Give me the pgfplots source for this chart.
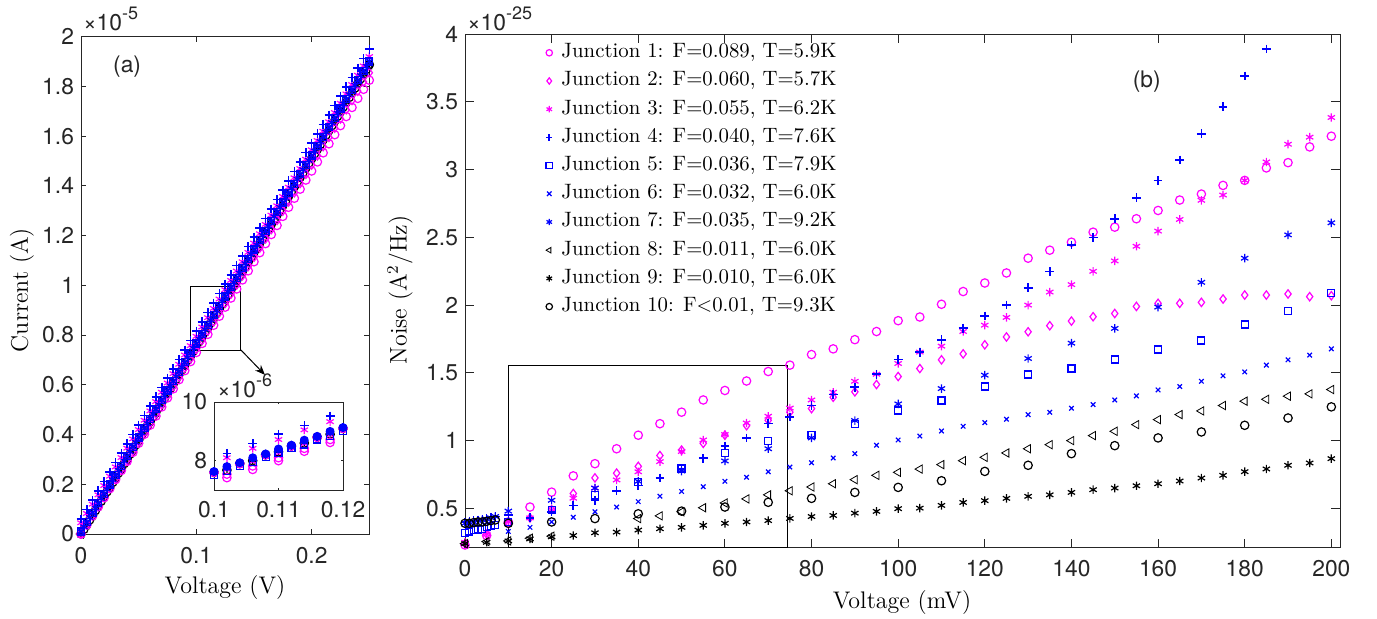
\documentclass[border=0pt]{standalone}
\usepackage{fontspec}
\usepackage{pgfplots}
\usepackage{pgfplotstable}
\pgfplotsset{compat=1.18}
\usetikzlibrary{arrows.meta}
\newfontfamily\hv{TeX Gyre Heros}
\definecolor{mmag}{rgb}{1,0,1}
\definecolor{mblue}{rgb}{0,0,1}
\definecolor{mblack}{rgb}{0,0,0}

\pgfplotstableread{
V J1 J2 J3 J4 B1 B2
0 0 0 0.045 0.06 0.01 0
0.005 0.0365 0.0371 0.0825 0.0978 0.0478 0.0378
0.010 0.073 0.0742 0.12 0.1356 0.0856 0.0755
0.015 0.1095 0.1113 0.1575 0.1734 0.1234 0.1133
0.020 0.146 0.1484 0.195 0.2112 0.1612 0.151
0.025 0.1825 0.1855 0.2325 0.249 0.199 0.1888
0.030 0.219 0.2226 0.27 0.2868 0.2368 0.2265
0.035 0.2555 0.2597 0.3075 0.3246 0.2746 0.2643
0.040 0.292 0.2968 0.345 0.3624 0.3124 0.302
0.045 0.3285 0.3339 0.3825 0.4002 0.3502 0.3398
0.050 0.365 0.371 0.42 0.438 0.388 0.3775
0.055 0.4015 0.4081 0.4575 0.4758 0.4258 0.4153
0.060 0.438 0.4452 0.495 0.5136 0.4636 0.453
0.065 0.4745 0.4823 0.5325 0.5514 0.5014 0.4908
0.070 0.511 0.5194 0.57 0.5892 0.5392 0.5285
0.075 0.5475 0.5565 0.6075 0.627 0.577 0.5663
0.080 0.584 0.5936 0.645 0.6648 0.6148 0.604
0.085 0.6205 0.6307 0.6825 0.7026 0.6526 0.6418
0.090 0.657 0.6678 0.72 0.7404 0.6904 0.6795
0.095 0.6935 0.7049 0.7575 0.7782 0.7282 0.7173
0.100 0.73 0.742 0.795 0.816 0.766 0.755
0.105 0.7665 0.7791 0.8325 0.8538 0.8038 0.7928
0.110 0.803 0.8162 0.87 0.8916 0.8416 0.8305
0.115 0.8395 0.8533 0.9075 0.9294 0.8794 0.8683
0.120 0.876 0.8904 0.945 0.9672 0.9172 0.906
0.125 0.9125 0.9275 0.9825 1.005 0.955 0.9438
0.130 0.949 0.9646 1.02 1.0428 0.9928 0.9815
0.135 0.9855 1.0017 1.0575 1.0806 1.0306 1.0193
0.140 1.022 1.0388 1.095 1.1184 1.0684 1.057
0.145 1.0585 1.0759 1.1325 1.1562 1.1062 1.0948
0.150 1.095 1.113 1.17 1.194 1.144 1.1325
0.155 1.1315 1.1501 1.2075 1.2318 1.1818 1.1703
0.160 1.168 1.1872 1.245 1.2696 1.2196 1.208
0.165 1.2045 1.2243 1.2825 1.3074 1.2574 1.2458
0.170 1.241 1.2614 1.32 1.3452 1.2952 1.2835
0.175 1.2775 1.2985 1.3575 1.383 1.333 1.3213
0.180 1.314 1.3356 1.395 1.4208 1.3708 1.359
0.185 1.3505 1.3727 1.4325 1.4586 1.4086 1.3968
0.190 1.387 1.4098 1.47 1.4964 1.4464 1.4345
0.195 1.4235 1.4469 1.5075 1.5342 1.4842 1.4723
0.200 1.46 1.484 1.545 1.572 1.522 1.51
0.205 1.4965 1.5211 1.5825 1.6098 1.5598 1.5478
0.210 1.533 1.5582 1.62 1.6476 1.5976 1.5855
0.215 1.5695 1.5953 1.6575 1.6854 1.6354 1.6233
0.220 1.606 1.6324 1.695 1.7232 1.6732 1.661
0.225 1.6425 1.6695 1.7325 1.761 1.711 1.6988
0.230 1.679 1.7066 1.77 1.7988 1.7488 1.7365
0.235 1.7155 1.7437 1.8075 1.8366 1.7866 1.7743
0.240 1.752 1.7808 1.845 1.8744 1.8244 1.812
0.245 1.7885 1.8179 1.8825 1.9122 1.8622 1.8498
0.250 1.825 1.855 1.92 1.95 1.90 1.8875
}\leftdata

\pgfplotstableread{
V B1 B2
0.0025 0.0289 0.0189
0.0075 0.0667 0.0566
0.0125 0.1045 0.0944
0.0175 0.1423 0.1321
0.0225 0.1801 0.1699
0.0275 0.2179 0.2076
0.0325 0.2557 0.2454
0.0375 0.2935 0.2831
0.0425 0.3313 0.3209
0.0475 0.3691 0.3586
0.0525 0.4069 0.3964
0.0575 0.4447 0.4341
0.0625 0.4825 0.4719
0.0675 0.5203 0.5096
0.0725 0.5581 0.5474
0.0775 0.5959 0.5851
0.0825 0.6337 0.6229
0.0875 0.6715 0.6606
0.0925 0.7093 0.6984
0.0975 0.7471 0.7361
0.1025 0.7849 0.7739
0.1075 0.8227 0.8116
0.1125 0.8605 0.8494
0.1175 0.8983 0.8871
0.1225 0.9361 0.9249
0.1275 0.9739 0.9626
0.1325 1.0117 1.0004
0.1375 1.0495 1.0381
0.1425 1.0873 1.0759
0.1475 1.1251 1.1136
0.1525 1.1629 1.1514
0.1575 1.2007 1.1891
0.1625 1.2385 1.2269
0.1675 1.2763 1.2646
0.1725 1.3141 1.3024
0.1775 1.3519 1.3401
0.1825 1.3897 1.3779
0.1875 1.4275 1.4156
0.1925 1.4653 1.4534
0.1975 1.5031 1.4911
0.2025 1.5409 1.5289
0.2075 1.5787 1.5666
0.2125 1.6165 1.6044
0.2175 1.6543 1.6421
0.2225 1.6921 1.6799
0.2275 1.7299 1.7176
0.2325 1.7677 1.7554
0.2375 1.8055 1.7931
0.2425 1.8433 1.8309
0.2475 1.8811 1.8686
}\leftband

\pgfplotsset{
  mstyle/.style={only marks, mark options={solid, line width=0.6pt}},
  pstyle/.style={only marks, mark options={solid, line width=0.8pt}},
  tlstyle/.style={
    /pgf/number format/assume math mode=true,
    every tick label/.append style={font=\hv\fontsize{11.4}{13}\selectfont, text=black!85},
    axis line style={black!85, line width=0.5pt},
    every tick/.append style={black!85, line width=0.5pt},
    scaled ticks=false, clip=false,
  },
}

\begin{document}
\begin{tikzpicture}
\useasboundingbox (0,0) rectangle (688.5pt,309pt);

% ---------------- left panel ----------------
\begin{axis}[tlstyle,
  at={(40.5pt,42pt)}, anchor=south west, scale only axis,
  width=144.15pt, height=248.65pt,
  xmin=0, xmax=0.25, ymin=0, ymax=2,
  xtick={0,0.1,0.2}, ytick={0,0.2,0.4,0.6,0.8,1,1.2,1.4,1.6,1.8,2},
  major tick length=2.5pt,
  xticklabel style={yshift=-3pt},
]
\addplot[mstyle, mblack, mark=o, mark size=2.1pt] table[x=V,y=B2] {\leftdata};
\addplot[mstyle, mblack, mark=o, mark size=2.1pt] table[x=V,y=B2] {\leftband};
\addplot[mstyle, mblack, mark=asterisk, mark size=2.1pt] table[x=V,y=B2] {\leftdata};
\addplot[mstyle, mblack, mark=triangle, mark size=2.4pt, mark options={rotate=90}] table[x=V,y=B2] {\leftdata};
\addplot[mstyle, mmag, mark=o, mark size=2.1pt] table[x=V,y=J1] {\leftdata};
\addplot[mstyle, mmag, mark=diamond, mark size=2.1pt] table[x=V,y=J2] {\leftdata};
\addplot[mstyle, mmag, mark=asterisk, mark size=2.1pt] table[x=V,y=J3] {\leftdata};
\addplot[pstyle, mblue, mark=+, mark size=2.2pt] table[x=V,y=J4] {\leftdata};
\addplot[mstyle, mblue, mark=square, mark size=1.75pt] table[x=V,y=B1] {\leftdata};
\addplot[mstyle, mblue, mark=x, mark size=1.6pt] table[x=V,y=B1] {\leftdata};
\addplot[mstyle, mblue, mark=asterisk, mark size=2.1pt] table[x=V,y=B1] {\leftdata};
\addplot[mstyle, mblue, mark=asterisk, mark size=2.1pt] table[x=V,y=B1] {\leftband};
\draw[black, line width=0.5pt] (axis cs:0.095,0.74) rectangle (axis cs:0.1387,0.995);
\draw[black, line width=0.5pt, -{Stealth[length=5pt,width=4pt]}] (axis cs:0.1387,0.74) -- (axis cs:0.1595,0.64);
\node[font=\hv\fontsize{11.4}{13}\selectfont, text=black!85] at (axis cs:0.04,1.88) {(a)};
\end{axis}
\node[anchor=base west, font=\hv\fontsize{11.4}{13}\selectfont, text=black!85, inner sep=0pt] at (41.5pt,294pt) {×10\raisebox{0.45em}{\fontsize{9}{10}\selectfont -5}};

% ---------------- inset ----------------
\begin{axis}[tlstyle,
  at={(107pt,64pt)}, anchor=south west, scale only axis,
  width=64.5pt, height=44pt,
  xmin=0.1, xmax=0.12, ymin=7, ymax=10,
  xtick={0.1,0.11,0.12}, ytick={8,10},
  major tick length=1.2pt,
  axis background/.style={fill=white},
  xticklabel style={yshift=-2pt},
]
\addplot[mstyle, mblack, mark=o, mark size=2.1pt] coordinates {(0.100,7.6)(0.102,7.68)(0.104,7.9)(0.106,8.0)(0.108,8.2)(0.110,8.3)(0.112,8.5)(0.114,8.6)(0.116,8.8)(0.118,8.9)(0.120,9.1)};
\addplot[mstyle, mblack, mark=asterisk, mark size=2.1pt] coordinates {(0.100,7.6)(0.102,7.72)(0.104,7.9)(0.106,8.02)(0.108,8.2)(0.110,8.32)(0.112,8.5)(0.114,8.62)(0.116,8.8)(0.118,8.92)(0.120,9.1)};
\addplot[mstyle, mmag, mark=o, mark size=2.1pt] coordinates {(0.100,7.6)(0.102,7.42)(0.104,7.9)(0.106,7.7)(0.108,8.2)(0.110,8.0)(0.112,8.5)(0.114,8.32)(0.116,8.8)(0.118,8.62)(0.120,9.1)};
\addplot[mstyle, mmag, mark=o, mark size=2.1pt] coordinates {(0.102,7.54)(0.106,7.82)(0.110,8.1)(0.114,8.42)(0.118,8.72)};
\addplot[mstyle, mmag, mark=asterisk, mark size=2.1pt] coordinates {(0.100,7.6)(0.102,8.1)(0.104,7.9)(0.106,8.42)(0.108,8.2)(0.110,8.72)(0.112,8.5)(0.114,9.05)(0.116,8.8)(0.118,9.33)(0.120,9.1)};
\addplot[pstyle, mblue, mark=+, mark size=2.2pt] coordinates {(0.100,7.62)(0.102,8.25)(0.104,7.92)(0.106,8.58)(0.108,8.22)(0.110,8.9)(0.112,8.52)(0.114,9.2)(0.116,8.82)(0.118,9.52)(0.120,9.12)};
\addplot[mstyle, mblue, mark=square, mark size=1.75pt] coordinates {(0.100,7.52)(0.102,7.65)(0.104,7.82)(0.106,7.95)(0.108,8.12)(0.110,8.25)(0.112,8.42)(0.114,8.55)(0.116,8.72)(0.118,8.85)(0.120,9.02)};
\addplot[mstyle, mblue, mark=asterisk, mark size=2.1pt] coordinates {(0.100,7.63)(0.102,7.8)(0.104,7.93)(0.106,8.1)(0.108,8.23)(0.110,8.4)(0.112,8.53)(0.114,8.7)(0.116,8.83)(0.118,9.0)(0.120,9.13)};
\addplot[mstyle, mblue, mark=*, mark size=1.9pt] coordinates {(0.100,7.63)(0.102,7.8)(0.104,7.93)(0.106,8.1)(0.108,8.23)(0.110,8.4)(0.112,8.53)(0.114,8.7)(0.116,8.83)(0.118,9.0)(0.120,9.13)};
\end{axis}
\node[anchor=base west, font=\hv\fontsize{11.4}{13}\selectfont, text=black!85, inner sep=0pt] at (108.5pt,110.5pt) {×10\raisebox{0.45em}{\fontsize{9}{10}\selectfont -6}};

\node[rotate=90, font=\fontsize{12}{14}\selectfont] at (11pt,164pt) {Current (A)};
\node[font=\fontsize{12}{14}\selectfont] at (112.5pt,15pt) {Voltage (V)};

% ---------------- right panel ----------------
\begin{axis}[tlstyle,
  at={(232.5pt,35.15pt)}, anchor=south west, scale only axis,
  width=437.5pt, height=256.85pt,
  xmin=0, xmax=202, ymin=0.21, ymax=4,
  xtick={0,20,40,60,80,100,120,140,160,180,200},
  ytick={0.5,1,1.5,2,2.5,3,3.5,4},
  major tick length=4.4pt,
  xticklabel style={yshift=-3pt},
  legend style={at={(0.0922,0.9895)}, anchor=north west, draw=none, fill=none,
    inner sep=0pt, row sep=1.1pt,
    font=\fontsize{10.4}{12}\selectfont,
    nodes={inner sep=1pt, text height=8pt, text depth=3pt},
    /tikz/every odd column/.append style={column sep=3.5pt}},
  legend cell align=left,
  legend image code/.code={\draw[mark size=1.6pt, mark repeat=2,mark phase=2] plot coordinates {(-3pt,0pt) (0pt,0pt) (3pt,0pt)};},
]
\addplot[mstyle, mmag, mark=o, mark size=2.1pt] coordinates {(0,0.23) (5,0.30) (10,0.40) (15,0.51) (20,0.62) (25,0.74) (30,0.83) (35,0.94) (40,1.04) (45,1.125) (50,1.21) (55,1.30) (60,1.37) (65,1.44) (70,1.51) (75,1.557) (80,1.635) (85,1.677) (90,1.745) (95,1.805) (100,1.885) (105,1.912) (110,2.006) (115,2.10) (120,2.163) (125,2.237) (130,2.346) (135,2.405) (140,2.464) (145,2.538) (150,2.575) (155,2.637) (160,2.698) (165,2.775) (170,2.819) (175,2.883) (180,2.92) (185,3.012) (190,3.051) (195,3.167) (200,3.246)};
\addlegendentry{Junction 1: F=0.089, T=5.9K}
\addplot[mstyle, mmag, mark=diamond, mark size=2.1pt] coordinates {(0,0.24) (5,0.31) (10,0.39) (15,0.43) (20,0.49) (25,0.61) (30,0.725) (35,0.76) (40,0.81) (45,0.89) (50,0.93) (55,0.98) (60,1.04) (65,1.11) (70,1.15) (75,1.21) (80,1.236) (85,1.32) (90,1.36) (95,1.414) (100,1.473) (105,1.532) (110,1.596) (115,1.64) (120,1.707) (125,1.765) (130,1.803) (135,1.848) (140,1.882) (145,1.914) (150,1.938) (155,1.99) (160,2.013) (165,2.013) (170,2.02) (175,2.045) (180,2.074) (185,2.074) (190,2.082) (195,2.062) (200,2.069)};
\addlegendentry{Junction 2: F=0.060, T=5.7K}
\addplot[mstyle, mmag, mark=asterisk, mark size=2.1pt] coordinates {(0,0.25) (5,0.31) (10,0.40) (15,0.43) (20,0.49) (25,0.575) (30,0.65) (35,0.71) (40,0.77) (45,0.845) (50,0.92) (55,1.005) (60,1.045) (65,1.13) (70,1.18) (75,1.24) (80,1.30) (85,1.357) (90,1.438) (95,1.49) (100,1.569) (105,1.653) (110,1.697) (115,1.805) (120,1.852) (125,1.909) (130,2.0) (135,2.096) (140,2.151) (145,2.249) (150,2.326) (155,2.434) (160,2.546) (165,2.632) (170,2.773) (175,2.812) (180,2.92) (185,3.056) (190,3.187) (195,3.239) (200,3.384)};
\addlegendentry{Junction 3: F=0.055, T=6.2K}
\addplot[pstyle, mblue, mark=+, mark size=2.2pt] coordinates {(0,0.40) (1,0.405) (2,0.41) (3,0.415) (4,0.42) (5,0.425) (6,0.435) (7,0.44) (10,0.45) (15,0.43) (20,0.475) (25,0.52) (30,0.56) (35,0.63) (40,0.67) (45,0.725) (50,0.79) (55,0.87) (60,0.96) (65,1.02) (70,1.125) (75,1.175) (80,1.26) (85,1.34) (90,1.394) (95,1.49) (100,1.60) (105,1.653) (110,1.744) (115,1.83) (120,1.92) (125,2.0) (130,2.128) (135,2.247) (140,2.444) (145,2.5) (150,2.637) (155,2.792) (160,2.918) (165,3.071) (170,3.263) (175,3.463) (180,3.69) (185,3.89)};
\addlegendentry{Junction 4: F=0.040, T=7.6K}
\addplot[mstyle, mblue, mark=square, mark size=1.75pt] coordinates {(0,0.32) (1,0.33) (2,0.34) (3,0.345) (4,0.35) (5,0.36) (6,0.37) (7,0.38) (10,0.40) (20,0.49) (30,0.60) (40,0.695) (50,0.795) (60,0.91) (70,0.995) (80,1.044) (90,1.123) (100,1.222) (110,1.296) (120,1.399) (130,1.488) (140,1.532) (150,1.599) (160,1.672) (170,1.739) (180,1.857) (190,1.956) (200,2.087)};
\addlegendentry{Junction 5: F=0.036, T=7.9K}
\addplot[mstyle, mblue, mark=x, mark size=1.6pt] coordinates {(10,0.33) (15,0.36) (20,0.40) (25,0.435) (30,0.475) (35,0.51) (40,0.55) (45,0.59) (50,0.625) (55,0.66) (60,0.70) (65,0.73) (70,0.77) (75,0.805) (80,0.837) (85,0.872) (90,0.904) (95,0.966) (100,1.005) (105,1.034) (110,1.071) (115,1.106) (120,1.133) (125,1.158) (130,1.192) (135,1.209) (140,1.239) (145,1.266) (150,1.30) (155,1.33) (160,1.374) (165,1.399) (170,1.438) (175,1.478) (180,1.507) (185,1.557) (190,1.596) (195,1.631) (200,1.677)};
\addlegendentry{Junction 6: F=0.032, T=6.0K}
\addplot[mstyle, mblue, mark=asterisk, mark size=2.1pt] coordinates {(0,0.39) (1,0.395) (2,0.40) (3,0.41) (4,0.415) (5,0.42) (6,0.43) (7,0.44) (10,0.48) (20,0.56) (30,0.65) (40,0.70) (50,0.775) (60,0.85) (70,0.94) (80,1.02) (90,1.148) (100,1.271) (110,1.384) (120,1.483) (130,1.606) (140,1.719) (150,1.828) (160,1.985) (170,2.168) (180,2.346) (190,2.518) (200,2.607)};
\addlegendentry{Junction 7: F=0.035, T=9.2K}
\addplot[mstyle, mblack, mark=triangle, mark size=2.4pt, mark options={rotate=90}] coordinates {(0,0.24) (5,0.255) (10,0.26) (15,0.28) (20,0.295) (40,0.425) (45,0.445) (50,0.475) (55,0.505) (60,0.54) (65,0.57) (70,0.60) (75,0.63) (80,0.658) (85,0.682) (90,0.712) (95,0.744) (100,0.766) (105,0.79) (110,0.823) (115,0.852) (120,0.877) (125,0.909) (130,0.94) (135,0.97) (140,1.0) (145,1.037) (150,1.069) (155,1.118) (160,1.155) (165,1.192) (170,1.219) (175,1.259) (180,1.291) (185,1.305) (190,1.328) (195,1.345) (200,1.377)};
\addlegendentry{Junction 8: F=0.011, T=6.0K}
\addplot[mstyle, mblack, mark=asterisk, mark size=2.1pt] coordinates {(0,0.24) (5,0.25) (10,0.26) (15,0.275) (20,0.29) (25,0.30) (30,0.32) (35,0.325) (40,0.34) (45,0.35) (50,0.36) (55,0.375) (60,0.39) (65,0.40) (70,0.41) (75,0.426) (80,0.44) (85,0.448) (90,0.465) (95,0.478) (100,0.498) (105,0.502) (110,0.522) (115,0.544) (120,0.557) (125,0.574) (130,0.589) (135,0.60) (140,0.618) (145,0.638) (150,0.65) (155,0.667) (160,0.682) (165,0.702) (170,0.724) (175,0.744) (180,0.771) (185,0.791) (190,0.818) (195,0.835) (200,0.867)};
\addlegendentry{Junction 9: F=0.010, T=6.0K}
\addplot[mstyle, mblack, mark=o, mark size=2.1pt] coordinates {(0,0.39) (1,0.39) (2,0.395) (3,0.40) (4,0.40) (5,0.405) (6,0.41) (7,0.415) (10,0.39) (20,0.40) (30,0.425) (40,0.46) (50,0.48) (60,0.51) (70,0.545) (80,0.574) (90,0.618) (100,0.655) (110,0.704) (120,0.773) (130,0.818) (140,0.904) (150,0.963) (160,1.02) (170,1.064) (180,1.113) (190,1.167) (200,1.249)};
\addlegendentry{Junction 10: F$<$0.01, T=9.3K}
\draw[black, line width=0.5pt] (axis cs:10,0.21) rectangle (axis cs:74.5,1.555);
\node[font=\hv\fontsize{11.4}{13}\selectfont, text=black!85] at (axis cs:157.4,3.646) {(b)};
\end{axis}
\node[anchor=base west, font=\hv\fontsize{11.4}{13}\selectfont, text=black!85, inner sep=0pt] at (233.5pt,294pt) {×10\raisebox{0.45em}{\fontsize{9}{10}\selectfont -25}};

\node[rotate=90, font=\fontsize{12}{14}\selectfont] at (200pt,164pt) {Noise (A$^2$/Hz)};
\node[font=\fontsize{12}{14}\selectfont] at (451pt,7.5pt) {Voltage (mV)};
\end{tikzpicture}
\end{document}
